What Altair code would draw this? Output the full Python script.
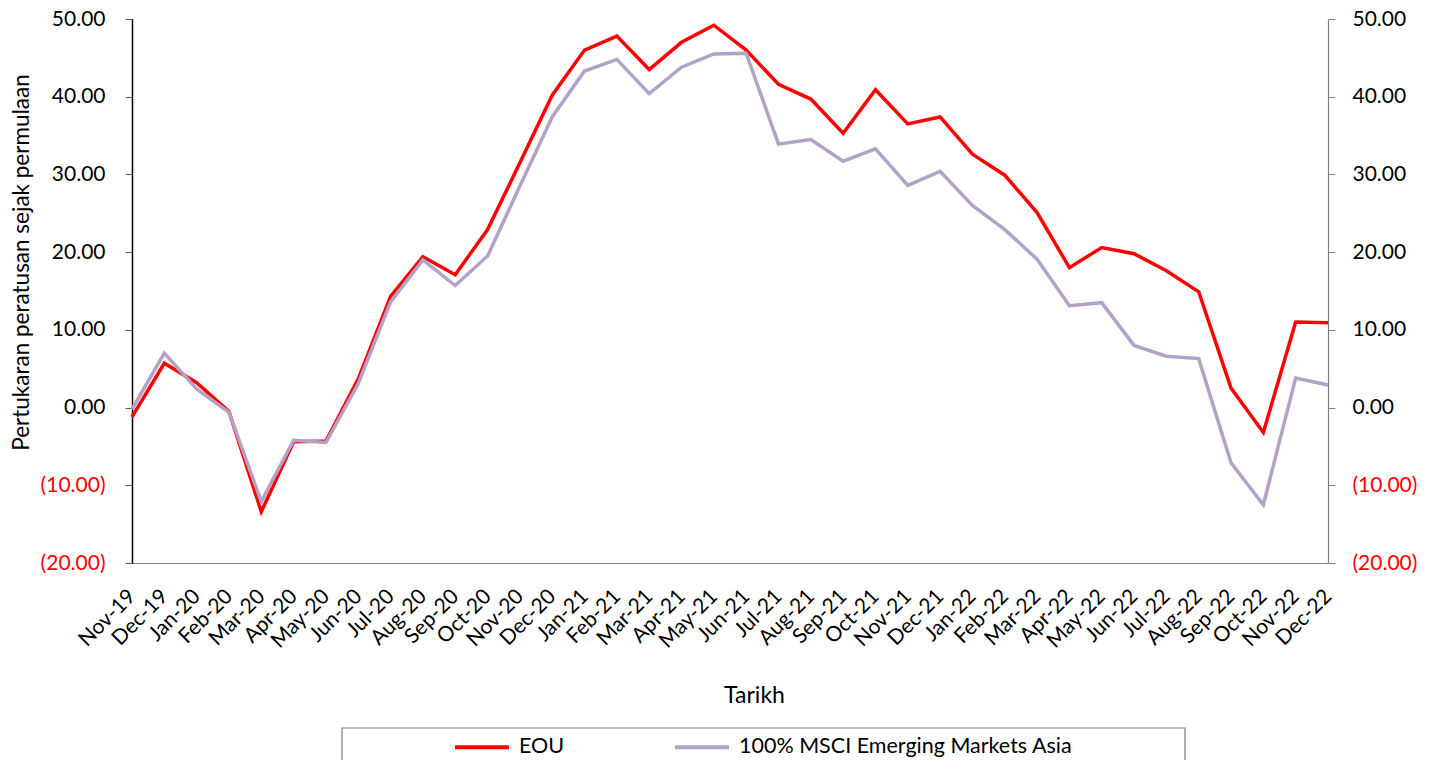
import altair as alt
import pandas as pd

months = ["Nov-19", "Dec-19", "Jan-20", "Feb-20", "Mar-20", "Apr-20", "May-20", "Jun-20",
          "Jul-20", "Aug-20", "Sep-20", "Oct-20", "Nov-20", "Dec-20", "Jan-21", "Feb-21",
          "Mar-21", "Apr-21", "May-21", "Jun-21", "Jul-21", "Aug-21", "Sep-21", "Oct-21",
          "Nov-21", "Dec-21", "Jan-22", "Feb-22", "Mar-22", "Apr-22", "May-22", "Jun-22",
          "Jul-22", "Aug-22", "Sep-22", "Oct-22", "Nov-22", "Dec-22"]

eou = [-1.2, 5.7, 3.2, -0.5, -13.4, -4.4, -4.3, 3.7, 14.3, 19.4, 17.1, 22.9, 31.5, 40.2,
       46.0, 47.8, 43.5, 47.0, 49.2, 46.0, 41.6, 39.7, 35.3, 40.9, 36.5, 37.4, 32.6, 29.9,
       25.1, 18.0, 20.6, 19.8, 17.6, 14.9, 2.5, -3.2, 11.0, 10.9]

msci = [-0.2, 7.0, 2.4, -0.6, -12.1, -4.2, -4.5, 3.1, 13.6, 19.0, 15.7, 19.5, 28.5, 37.4,
        43.3, 44.8, 40.4, 43.8, 45.5, 45.6, 33.9, 34.5, 31.7, 33.3, 28.6, 30.4, 26.0, 22.9,
        19.1, 13.1, 13.5, 8.0, 6.6, 6.3, -7.1, -12.5, 3.8, 2.9]

series_names = ["EOU", "100% MSCI Emerging Markets Asia"]
series_colors = ["#FF0000", "#B3A2C7"]
y_ticks = [-20, -10, 0, 10, 20, 30, 40, 50]

df = pd.DataFrame({
    "month": months * 2,
    "series": [series_names[0]] * len(months) + [series_names[1]] * len(months),
    "value": eou + msci,
})

FONT = "Lato"
label_expr = "datum.value < 0 ? '(' + format(-datum.value, '.2f') + ')' : format(datum.value, '.2f')"
label_color = {"condition": {"test": "datum.value < 0", "value": "#FF0000"}, "value": "#000000"}

x_enc = alt.X(
    "month:N", sort=months,
    scale=alt.Scale(type="point", padding=0),
    axis=alt.Axis(
        title="Tarikh", labelAngle=-45, labelAlign="right", labelBaseline="middle",
        labelPadding=30, ticks=False, domainColor="#808080", domainWidth=1.2,
        labelFont=FONT, labelFontSize=21, labelColor="#000000", labelOverlap=False,
        titleFont=FONT, titleFontSize=23, titleFontWeight="normal", titleColor="#000000",
        titleX=622, titleY=132, titleBaseline="middle", grid=False,
    ),
)

color_enc = alt.Color(
    "series:N",
    scale=alt.Scale(domain=series_names, range=series_colors),
    legend=alt.Legend(
        title=None, orient="none", legendX=321, legendY=699, direction="horizontal",
        symbolType="stroke", symbolSize=2916, symbolStrokeWidth=4, labelFont=FONT,
        labelFontSize=21.5, labelColor="#000000", labelOffset=8, columnPadding=102,
        padding=0, labelLimit=600,
    ),
)

left = alt.Chart(df).transform_filter(
    alt.datum.series == series_names[0]
).mark_line(strokeWidth=3.5).encode(
    x=x_enc,
    y=alt.Y(
        "value:Q", scale=alt.Scale(domain=[-20, 50], nice=False, zero=False),
        axis=alt.Axis(
            title="Pertukaran peratusan sejak permulaan", values=y_ticks, labelExpr=label_expr,
            labelColor=label_color, labelFont=FONT, labelFontSize=21, labelPadding=20,
            tickSize=7, tickColor="#595959", domainColor="#000000", domainWidth=1.5, grid=False,
            titleFont=FONT, titleFontSize=22.5, titleFontWeight="normal", titleColor="#000000",
            titleX=-111, titleY=243, titleAngle=-90, titleBaseline="middle", titleAlign="center",
        ),
    ),
    color=color_enc,
)

right = alt.Chart(df).transform_filter(
    alt.datum.series == series_names[1]
).mark_line(strokeWidth=3.5).encode(
    x=x_enc,
    y=alt.Y(
        "value:Q", scale=alt.Scale(domain=[-20, 50], nice=False, zero=False),
        axis=alt.Axis(
            orient="right", title=None, values=y_ticks, labelExpr=label_expr,
            labelColor=label_color, labelFont=FONT, labelFontSize=21, labelPadding=17,
            tickSize=7, tickColor="#808080", domainColor="#808080", domainWidth=1.2, grid=False,
        ),
    ),
    color=color_enc,
)

legend_box = alt.Chart(pd.DataFrame({"box": [0]})).mark_rect(
    fill="transparent", stroke="#7f7f7f", strokeWidth=1.2
).encode(
    x=alt.value(210), x2=alt.value(1053), y=alt.value(709), y2=alt.value(780)
)

chart = alt.layer(legend_box, left, right).resolve_scale(y="independent").properties(
    width=1196, height=544,
    padding={"left": 124, "top": 11, "right": 101, "bottom": 197},
    autosize=alt.AutoSizeParams(type="none"),
).configure_view(stroke="transparent")

chart.save("out.html", embed_options={"renderer": "svg", "actions": False})
